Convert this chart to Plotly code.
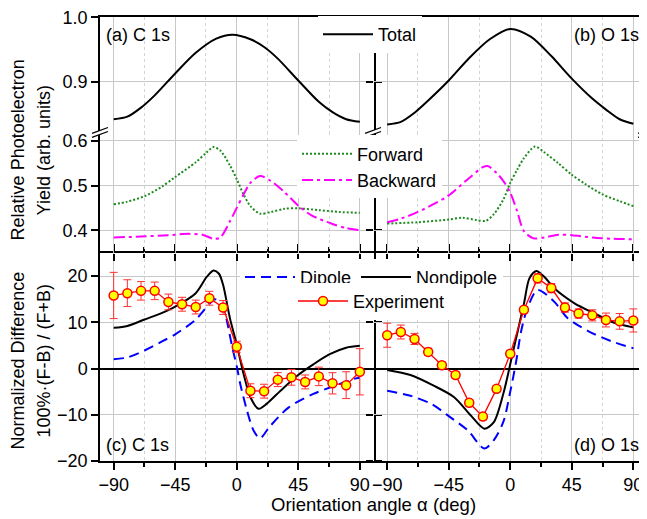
import plotly.graph_objects as go

# ---------------- data ----------------
ang_exp = [-90, -80, -70, -60, -50, -40, -30, -20, -10, 0, 10, 20, 30, 40, 50, 60, 70, 80, 90]

c_total_x = [-90, -80, -70, -60, -45, -30, -15, -3, 10, 20, 30, 45, 60, 70, 80, 90]
c_total_y = [0.842, 0.846, 0.860, 0.879, 0.913, 0.945, 0.967, 0.973, 0.966, 0.954, 0.936, 0.902, 0.869, 0.853, 0.842, 0.838]
o_total_x = [-90, -80, -70, -60, -45, -30, -15, 0, 15, 30, 45, 60, 70, 80, 90]
o_total_y = [0.834, 0.838, 0.852, 0.871, 0.902, 0.937, 0.966, 0.982, 0.970, 0.940, 0.905, 0.874, 0.857, 0.842, 0.835]

c_fwd_x = [-90, -80, -67.5, -55, -45, -30, -22, -17, -12, -5, 0, 5, 10, 17, 25, 35, 45, 60, 75, 90]
c_fwd_y = [0.458, 0.464, 0.476, 0.497, 0.519, 0.552, 0.574, 0.586, 0.578, 0.545, 0.514, 0.480, 0.454, 0.437, 0.441, 0.448, 0.449, 0.445, 0.441, 0.439]
c_bwd_x = [-90, -70, -50, -35, -25, -17, -12, -5, 0, 5, 10, 17, 25, 35, 45, 55, 70, 80, 90]
c_bwd_y = [0.384, 0.386, 0.389, 0.392, 0.390, 0.381, 0.384, 0.420, 0.450, 0.480, 0.506, 0.521, 0.510, 0.485, 0.455, 0.433, 0.414, 0.405, 0.400]
o_fwd_x = [-90, -67.5, -45, -35, -25, -18, -12, -5, 0, 5, 10, 18, 25, 35, 45, 55, 67.5, 80, 90]
o_fwd_y = [0.415, 0.418, 0.424, 0.428, 0.423, 0.421, 0.436, 0.469, 0.506, 0.535, 0.561, 0.587, 0.574, 0.550, 0.524, 0.503, 0.480, 0.465, 0.454]
o_bwd_x = [-90, -80, -67.5, -55, -45, -30, -20, -16, -10, -5, 0, 5, 10, 17, 25, 35, 45, 60, 75, 90]
o_bwd_y = [0.418, 0.426, 0.441, 0.460, 0.478, 0.517, 0.541, 0.543, 0.528, 0.510, 0.484, 0.443, 0.398, 0.382, 0.384, 0.390, 0.389, 0.384, 0.381, 0.380]

c_dip_x = [-90, -80, -67.5, -55, -45, -30, -20, -16, -10, -7, -3.5, 0, 2.6, 7.5, 12.3, 17, 24, 38, 56, 70, 85, 90]
c_dip_y = [2.0, 2.4, 3.9, 5.8, 7.4, 10.6, 14.0, 15.0, 13.4, 10.0, 4.9, 0.5, -3.4, -9.1, -13.4, -15.1, -12.6, -8.4, -5.5, -3.9, -2.3, -2.0]
c_nd_x = [-90, -80, -67.5, -55, -45, -30, -22, -17, -13, -10, -5, 0, 5, 10, 16, 22, 32, 44, 56, 68, 80, 90]
c_nd_y = [8.8, 9.2, 10.6, 12.0, 13.4, 16.3, 19.8, 21.2, 20.5, 18.1, 10.9, 5.2, -1.2, -6.2, -8.7, -7.6, -4.8, -1.6, 0.9, 3.1, 4.5, 4.9]
c_exp = [15.8, 16.3, 16.8, 16.8, 14.4, 13.9, 13.3, 15.2, 13.2, 4.7, -4.8, -4.9, -2.4, -1.9, -2.9, -1.7, -3.2, -3.6, -0.7]
c_err = [5.0, 2.9, 2.0, 1.9, 1.7, 1.5, 1.5, 1.5, 1.5, 1.2, 1.5, 1.5, 1.5, 1.7, 1.5, 2.0, 2.3, 2.9, 5.0]

o_dip_x = [-90, -73, -58, -44, -31, -19, -12, -5, 0, 4, 8, 12.6, 20, 32, 42, 57, 74, 90]
o_dip_y = [-4.8, -5.9, -7.6, -10.5, -13.4, -17.3, -15.5, -11.5, -5.0, 1.0, 8.1, 13.1, 17.0, 14.5, 10.9, 8.1, 5.9, 4.4]
o_nd_x = [-90, -73, -56, -41, -29, -19, -12, -4.5, 1.6, 10, 14, 19, 25, 32, 47, 61, 76, 90]
o_nd_y = [-0.3, -1.4, -3.7, -6.2, -10.1, -13.0, -11.6, -4.8, 3.1, 14.0, 19.5, 21.1, 19.8, 17.4, 14.1, 12.0, 9.9, 8.9]
o_exp = [7.2, 7.9, 6.4, 3.6, 0.7, -1.4, -7.4, -10.4, -4.4, 3.2, 12.7, 19.5, 17.4, 13.2, 11.9, 11.5, 10.5, 10.2, 10.4]
o_err = [2.6, 1.5, 1.2, 0.8, 0.7, 0.7, 0.7, 0.7, 0.7, 0.7, 0.7, 1.0, 1.0, 1.0, 1.0, 1.2, 1.5, 1.7, 2.5]

x_ticks = [-90, -45, 0, 45, 90]
x_minor = [-67.5, -22.5, 22.5, 67.5]

# ---------------- layout geometry ----------------
# the page body has an 8px margin, so the figure is drawn 8px right/down
OFF = 8
W, H = 647 - OFF, 519 - OFF
REF_L, REF_R, REF_T, REF_B = 100, 647, 15, 461
ML, MT = REF_L - OFF, REF_T - OFF
MR, MB = W - (REF_R - OFF), H - (REF_B - OFF)
PW, PH = REF_R - REF_L, REF_B - REF_T


def px(x):
    return (x - REF_L) / PW


def py(y):
    return (REF_B - y) / PH


Y_SPLIT_BOT = py(252)
Y_SPLIT_TOP = py(131)

FONT = "Liberation Sans, Arial, sans-serif"
GRID = "#c8c8c8"
MGRID = "#d4d4d4"
FS = 18

fig = go.Figure()


def line_trace(x, y, xa, ya, name, color, dash, legend, show, width=2):
    fig.add_trace(go.Scatter(
        x=x, y=y, xaxis=xa, yaxis=ya, mode="lines", name=name,
        line=dict(color=color, dash=dash, width=width, shape="spline", smoothing=0.8),
        legend=legend, showlegend=show, legendgroup=name, hoverinfo="skip"))


# Total
line_trace(c_total_x, c_total_y, "x5", "y5", "Total", "black", "solid", "legend", True)
line_trace(o_total_x, o_total_y, "x6", "y6", "Total", "black", "solid", "legend", False)
# Forward / Backward
FWD_DASH = "2px,2px"
BWD_DASH = "11px,4px,3px,4px"
line_trace(c_fwd_x, c_fwd_y, "x3", "y3", "Forward", "#1f8a1f", FWD_DASH, "legend2", True)
line_trace(c_bwd_x, c_bwd_y, "x3", "y3", "Backward", "#ff00ff", BWD_DASH, "legend2", True)
line_trace(o_fwd_x, o_fwd_y, "x4", "y4", "Forward", "#1f8a1f", FWD_DASH, "legend2", False)
line_trace(o_bwd_x, o_bwd_y, "x4", "y4", "Backward", "#ff00ff", BWD_DASH, "legend2", False)
# Dipole / Nondipole
DIP_DASH = "10px,6px"
line_trace(c_dip_x, c_dip_y, "x", "y", "Dipole", "#0000ff", DIP_DASH, "legend3", True)
line_trace(c_nd_x, c_nd_y, "x", "y", "Nondipole", "black", "solid", "legend3", True)
line_trace(o_dip_x, o_dip_y, "x2", "y2", "Dipole", "#0000ff", DIP_DASH, "legend3", False)
line_trace(o_nd_x, o_nd_y, "x2", "y2", "Nondipole", "black", "solid", "legend3", False)


def exp_trace(y, err, xa, ya, show):
    fig.add_trace(go.Scatter(
        x=ang_exp, y=y, xaxis=xa, yaxis=ya, mode="lines+markers", name="Experiment",
        line=dict(color="#ff0000", width=1.3),
        marker=dict(symbol="circle", size=9, color="#ffff00", line=dict(color="#ff0000", width=1.5)),
        error_y=dict(type="data", array=err, visible=True, color="#ff3030", thickness=1, width=4),
        legend="legend4", showlegend=show, legendgroup="Experiment", hoverinfo="skip", cliponaxis=False))


exp_trace(c_exp, c_err, "x", "y", True)
exp_trace(o_exp, o_err, "x2", "y2", False)


def xax(domain, anchor, labels=False, ticks=True, mirror=False, side="bottom", line=True):
    t = "outside" if ticks else ""
    return dict(domain=domain, anchor=anchor, range=[-100, 100], side=side,
                tickmode="array", tickvals=x_ticks,
                showgrid=True, gridcolor=GRID, gridwidth=1, zeroline=False,
                showline=line, linecolor="black", linewidth=1.5, mirror=mirror,
                showticklabels=labels, tickfont=dict(size=FS, color="black", family=FONT),
                ticks=t, ticklen=7, tickwidth=1.5, tickcolor="black",
                minor=dict(tickmode="array", tickvals=x_minor, ticks=t, ticklen=4, tickwidth=1.5,
                           tickcolor="black", showgrid=True, gridcolor=MGRID, griddash="dot", gridwidth=1))


def yax(domain, anchor, rng, dtick, labels, mirror, fmt=None, zero=False, line=True):
    d = dict(domain=domain, anchor=anchor, range=rng, tickmode="linear", tick0=0, dtick=dtick,
             showgrid=True, gridcolor=GRID, gridwidth=1,
             zeroline=zero, zerolinecolor="black", zerolinewidth=1.5,
             showline=line, linecolor="black", linewidth=1.5, mirror=mirror,
             showticklabels=labels, tickfont=dict(size=FS, color="black", family=FONT),
             ticklabeloverflow="allow",
             ticks="outside", ticklen=7, tickwidth=1.5, tickcolor="black")
    if fmt:
        d["tickformat"] = fmt
    return d


BOT = [0, Y_SPLIT_BOT]
LOW = [Y_SPLIT_BOT, Y_SPLIT_TOP]
UPP = [Y_SPLIT_TOP, 1]
R_BOT = [-20, 25]
R_LOW = [0.3494, 0.6185]
R_UPP = [0.8215, 1.0005]

fig.update_layout(
    xaxis=xax([0, 0.5], "y", labels=True, mirror="ticks"),
    xaxis2=xax([0.5, 1], "y2", labels=True, mirror="ticks"),
    xaxis3=xax([0, 0.5], "y3", line=False),
    xaxis4=xax([0.5, 1], "y4", line=False),
    xaxis5=xax([0, 0.5], "y5", ticks=False, side="top"),
    xaxis6=xax([0.5, 1], "y6", ticks=False, side="top"),
    yaxis=yax(BOT, "x", R_BOT, 10, True, "ticks", zero=True),
    yaxis2=yax(BOT, "x2", R_BOT, 10, False, False, zero=True, line=False),
    yaxis3=yax(LOW, "x3", R_LOW, 0.1, True, "ticks", fmt=".1f"),
    yaxis4=yax(LOW, "x4", R_LOW, 0.1, False, False, line=False),
    yaxis5=yax(UPP, "x5", R_UPP, 0.1, True, "ticks", fmt=".1f"),
    yaxis6=yax(UPP, "x6", R_UPP, 0.1, False, False, line=False),
)

LEG = dict(bgcolor="white", borderwidth=0, font=dict(size=FS, color="black", family=FONT),
           itemwidth=50, xanchor="left", yanchor="top", tracegroupgap=0)
fig.update_layout(
    legend=dict(LEG, x=px(318), y=py(14)),
    legend2=dict(LEG, x=px(297), y=py(134)),
    legend3=dict(LEG, x=px(240), y=py(258), orientation="h"),
    legend4=dict(LEG, x=px(293), y=py(282)),
)

# axis-break marks
shapes = []
for bx in (100, 373, 646):
    by = 131
    shapes.append(dict(type="path", xref="paper", yref="paper",
                       path="M {} {} L {} {} L {} {} L {} {} Z".format(
                           px(bx - 8), py(by + 1), px(bx + 8), py(by - 5),
                           px(bx + 8), py(by - 1), px(bx - 8), py(by + 5)),
                       fillcolor="white", line=dict(width=0), layer="above"))
    for dy in (1, 5):
        shapes.append(dict(type="line", xref="paper", yref="paper",
                           x0=px(bx - 8), y0=py(by + dy), x1=px(bx + 8), y1=py(by + dy - 6),
                           line=dict(color="black", width=1.3), layer="above"))
fig.update_layout(shapes=shapes)

ann = []


def text(x, y, s, xanchor="center", angle=0, size=FS):
    ann.append(dict(x=px(x), y=py(y), xref="paper", yref="paper", text=s, showarrow=False,
                    xanchor=xanchor, yanchor="middle", textangle=angle,
                    font=dict(size=size, color="black", family=FONT)))


text(104, 33, "(a) C 1s", "left")
text(641, 33, "(b) O 1s", "right")
text(104, 445, "(c) C 1s", "left")
text(641, 445, "(d) O 1s", "right")
text(18, 149, "Relative Photoelectron", angle=-90)
text(44, 149, "Yield (arb. units)", angle=-90)
text(18, 360, "Normalized Difference", angle=-90)
text(44, 360, "100%·(F-B) / (F+B)", angle=-90)
text(373, 505, "Orientation angle α (deg)", size=18.5)
fig.update_layout(annotations=ann)

fig.update_layout(
    width=W, height=H, margin=dict(l=ML, r=MR, t=MT, b=MB, pad=0),
    paper_bgcolor="white", plot_bgcolor="white",
    font=dict(family=FONT, size=FS, color="black"),
)

fig.write_html("out.html")
